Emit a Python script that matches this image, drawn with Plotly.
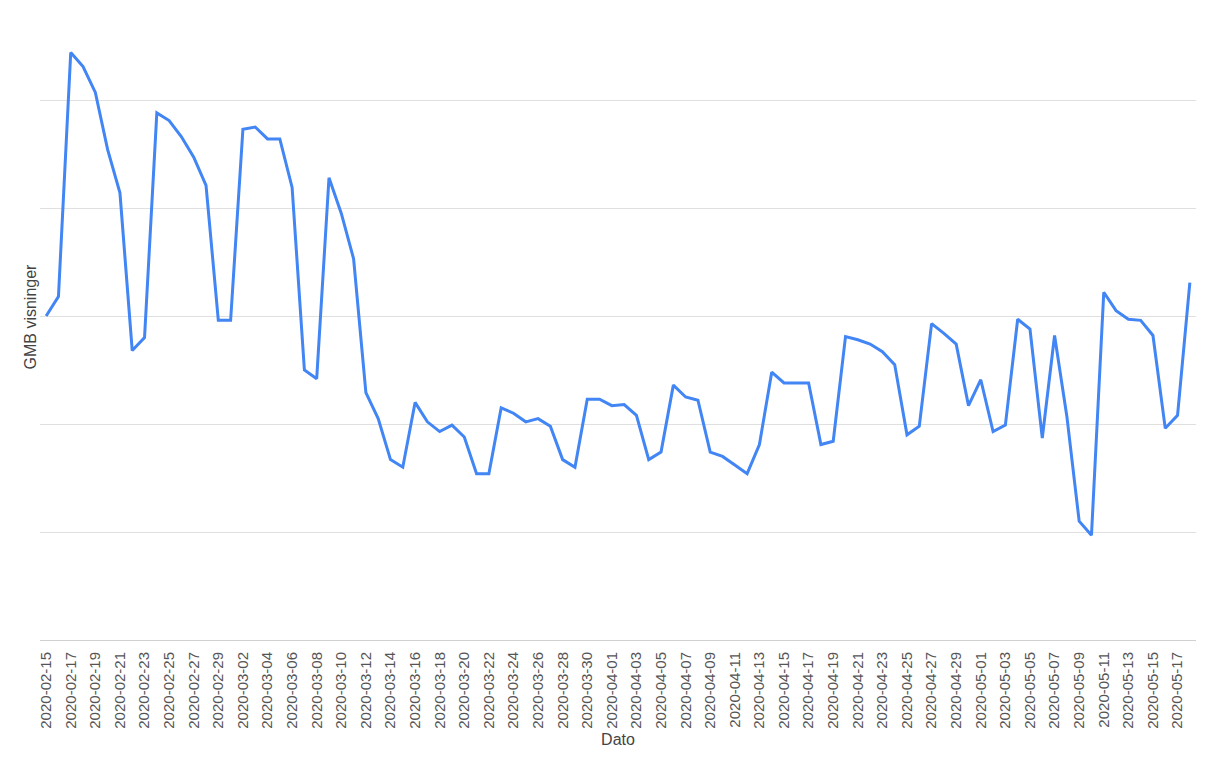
import plotly.graph_objects as go
import pandas as pd

dates = [d.strftime("%Y-%m-%d") for d in pd.date_range("2020-02-15", "2020-05-18", freq="D")]

views = [
    300, 318, 544, 531, 507, 454, 414, 268, 280, 488,
    481, 466, 447, 421, 296, 296, 473, 475, 464, 464,
    419, 250, 242, 428, 395, 353, 229, 205, 167, 160,
    220, 202, 193, 199, 188, 154, 154, 215, 210, 202,
    205, 198, 167, 160, 223, 223, 217, 218, 208, 167,
    174, 236, 225, 222, 174, 170, 162, 154, 181, 248,
    238, 238, 238, 181, 184, 281, 278, 274, 267, 255,
    190, 198, 293, 284, 274, 217, 241, 193, 199, 297,
    288, 187, 282, 207, 110, 97, 322, 305, 297, 296,
    282, 196, 208, 331,
]

tick_dates = dates[::2]

x_title = "Dato"
y_title = "GMB visninger"

fig = go.Figure()
fig.add_trace(go.Scatter(
    x=dates, y=views, mode="lines",
    line=dict(color="#4285F4", width=3),
    hoverinfo="x+y", showlegend=False,
))

font_family = "Arial, Liberation Sans, sans-serif"

fig.update_layout(
    width=1210, height=750,
    margin=dict(l=32, r=22, t=0, b=118),
    paper_bgcolor="white", plot_bgcolor="white",
    font=dict(family=font_family, color="#444444", size=15),
    xaxis=dict(
        type="category",
        categoryorder="array", categoryarray=dates,
        range=[-0.5, len(dates) - 0.5],
        tickmode="array", tickvals=tick_dates, ticktext=tick_dates,
        tickangle=-90,
        tickfont=dict(size=15, color="#555555"),
        ticks="outside", ticklen=5, tickcolor="rgba(0,0,0,0)",
        showgrid=False, zeroline=False,
        showline=False,
        automargin=False,
        title=dict(text=x_title, font=dict(size=16, color="#444444"), standoff=6),
    ),
    yaxis=dict(
        range=[0, 585.2],
        dtick=100, tick0=0,
        showticklabels=False,
        showgrid=True, gridcolor="#e0e0e0", gridwidth=1,
        zeroline=True, zerolinecolor="#d0d0d0", zerolinewidth=1,
        showline=False,
        automargin=False,
    ),
    annotations=[dict(
        text=y_title, textangle=-90,
        xref="paper", yref="paper",
        x=(30 - 40) / 1156, y=(640 - 316.5) / 632,
        xanchor="center", yanchor="middle",
        showarrow=False,
        font=dict(size=16, color="#444444"),
    )],
    shapes=[dict(
        type="line", xref="paper", yref="paper",
        x0=(1214 - 40) / 1156, x1=(1214 - 40) / 1156, y0=-118 / 632, y1=1,
        line=dict(color="#e6e6e6", width=3),
    )],
)

fig.write_html("out.html")
